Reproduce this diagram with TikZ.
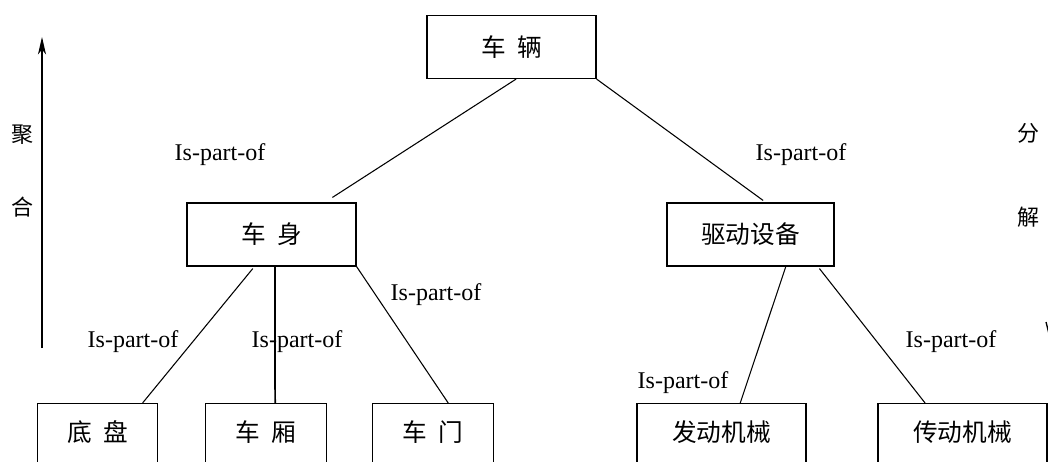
\documentclass[tikz,border=0pt]{standalone}
\usepackage{fontspec}
\setmainfont{Liberation Serif}
\newfontfamily\cjk{Noto Sans CJK SC}
\usetikzlibrary{calc,arrows.meta}
\tikzset{
  box/.style={draw, line width=0.85pt, inner sep=0pt, minimum height=47.25pt,
              font=\cjk\fontsize{18.5}{21}\selectfont},
  wbox/.style={box, minimum width=126.75pt},
  nbox/.style={box, minimum width=90.5pt, minimum height=46.5pt, text depth=0pt},
  conn/.style={line width=0.8pt},
  lbl/.style={inner sep=0pt, font=\fontsize{18}{21}\selectfont},
  side/.style={inner sep=0pt, font=\cjk\fontsize{16.5}{19}\selectfont},
  ctext/.style={inner sep=0pt, font=\cjk\fontsize{18.5}{21}\selectfont},
}
\newcommand{\gapsp}{\hspace{0.45em}}
\begin{document}
\begin{tikzpicture}[x=0.75pt,y=-0.75pt]
\useasboundingbox (0,0) rectangle (1048,461);
\clip (0,0) rectangle (1048,461);
% boxes
\node[wbox] (top) at (511.5,47) {车\gapsp 辆};
\node[wbox] (body) at (271.5,234.5) {车\gapsp 身};
\node[box, minimum width=125.25pt] (drive) at (750.5,234.5) {驱动设备};
\node[nbox, anchor=north] (chassis) at (97.5,403) {};
\node[nbox, anchor=north] (cabin) at (266,403) {};
\node[nbox, anchor=north] (door) at (433,403) {};
\node[wbox, anchor=north] (engine) at (721.5,403) {};
\node[wbox, anchor=north] (trans) at (962.5,403) {};
\node[ctext] (chassist) at (97.5,432) {底\gapsp 盘};
\node[ctext] (cabint) at (266,432) {车\gapsp 厢};
\node[ctext] (doort) at (433,432) {车\gapsp 门};
\node[ctext] (enginet) at (721.5,432) {发动机械};
\node[ctext] (transt) at (962.5,432) {传动机械};
% connectors
\coordinate (b1) at ($(body.north west)!0.858!(body.north east)+(0,-5)$);
\draw[conn] ($(top.south west)!0.527!(top.south east)$) -- (b1);
\coordinate (d1) at ($(drive.north west)!0.575!(drive.north east)+(0,-2)$);
\draw[conn] (top.south east) -- (d1);
\draw[conn] ($(body.south west)!0.39!(body.south east)+(0,2)$) -- ($(chassis.north west)!0.87!(chassis.north east)$);
\draw[line width=1.3pt] ($(body.south west)!0.52!(body.south east)$) -- ($(cabin.north west)!0.575!(cabin.north east)$);
\draw[conn] (body.south east) -- ($(door.north west)!0.625!(door.north east)$);
\draw[conn] ($(drive.south west)!0.71!(drive.south east)$) -- ($(engine.north west)!0.61!(engine.north east)$);
\draw[conn] ($(drive.south west)!0.91!(drive.south east)+(0,2)$) -- ($(trans.north west)!0.28!(trans.north east)$);
% labels
\node[lbl] (l1) at (220,155) {Is-part-of};
\node[lbl] (l2) at (801,155) {Is-part-of};
\node[lbl] (l3) at (436,295) {Is-part-of};
\node[lbl] (l4) at (133,342) {Is-part-of};
\node[lbl] (l5) at (297,342) {Is-part-of};
\node[lbl] (l6) at (951,342) {Is-part-of};
\node[lbl] (l7) at (683,383) {Is-part-of};
% side arrow and texts
\coordinate (abot) at (42,348);
\coordinate (atop) at (42,37);
\draw[line width=0.9pt, -{Stealth[length=13pt,width=6pt,inset=3.5pt]}] (abot) -- (atop);
\node[side] (s1) at (23,135) {聚};
\node[side] (s2) at (23,207) {合};
\node[side] (s3) at (1028,133) {分};
\node[side] (s4) at (1028,217) {解};
\coordinate (m1) at (1046,322);
\coordinate (m2) at (1049,334);
\draw[line width=1pt] (m1) -- (m2);
\end{tikzpicture}
\end{document}
